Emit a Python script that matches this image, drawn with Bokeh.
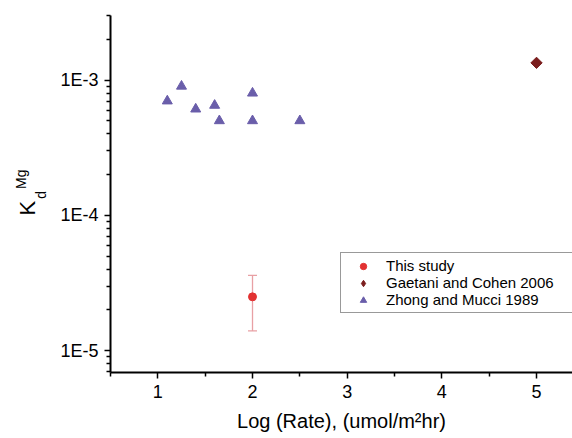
import math
from bokeh.plotting import figure
from bokeh.models import (Range1d, FixedTicker, ColumnDataSource, Whisker, TeeHead, Label,
                          Legend, LegendItem)
from bokeh.embed import file_html
from bokeh.resources import INLINE

# ---- data ----
study_x = [2.0]
study_y = [2.5e-5]
study_lo = [1.4e-5]
study_hi = [3.6e-5]

gaetani_x = [5.0]
gaetani_y = [1.34e-3]

zhong_x = [1.1, 1.25, 1.4, 1.6, 1.65, 2.0, 2.0, 2.5]
zhong_y = [7.0e-4, 9.0e-4, 6.1e-4, 6.5e-4, 5.0e-4, 8.0e-4, 5.0e-4, 5.0e-4]

x_ticks = [1, 2, 3, 4, 5]
y_ticks = [1e-5, 1e-4, 1e-3]
y_tick_labels = ["1E-5", "1E-4", "1E-3"]

FONT = "Liberation Sans"

p = figure(width=572, height=438, output_backend="svg", toolbar_location=None,
           y_axis_type="log",
           x_range=Range1d(0.5, 5.38), y_range=Range1d(6.9e-6, 3.0e-3),
           min_border_left=110, min_border_right=0, min_border_top=15, min_border_bottom=66)
p.outline_line_color = None
p.xgrid.grid_line_color = None
p.ygrid.grid_line_color = None
p.background_fill_color = "white"
p.border_fill_color = "white"

# axes
xa = p.xaxis[0]
xa.ticker = FixedTicker(ticks=x_ticks, minor_ticks=[t + 0.5 for t in [0] + x_ticks])
xa.axis_label = "Log (Rate), (umol/m\u00b2hr)"
ya = p.yaxis[0]
minor = [m * d for d in [1e-6, 1e-5, 1e-4, 1e-3] for m in range(2, 10)]
ya.ticker = FixedTicker(ticks=y_ticks, minor_ticks=minor)
ya.major_label_overrides = {t: l for t, l in zip(y_ticks, y_tick_labels)}
for ax in (xa, ya):
    ax.axis_line_width = 2
    ax.axis_line_color = "black"
    ax.major_tick_line_color = "black"
    ax.major_tick_line_width = 1.5
    ax.minor_tick_line_color = "black"
    ax.minor_tick_line_width = 1.5
    ax.major_tick_out = 6
    ax.major_tick_in = 0
    ax.minor_tick_out = 4
    ax.minor_tick_in = 0
    ax.major_label_text_font = FONT
    ax.major_label_text_font_size = "18px"
    ax.major_label_text_color = "black"
    ax.major_label_standoff = 6
    ax.axis_label_text_font = FONT
    ax.axis_label_text_font_style = "normal"
    ax.axis_label_text_font_size = "20px"
    ax.axis_label_text_color = "black"
xa.axis_label_standoff = 9

# error bar
err_src = ColumnDataSource(dict(x=study_x, lo=study_lo, hi=study_hi))
wh = Whisker(base="x", upper="hi", lower="lo", source=err_src, dimension="height",
             line_color="#e8a0a4", line_width=1.3,
             upper_head=TeeHead(size=9, line_color="#e8a0a4", line_width=1.3),
             lower_head=TeeHead(size=9, line_color="#e8a0a4", line_width=1.3))
p.add_layout(wh)

r_study = p.scatter(study_x, study_y, marker="circle", size=8, fill_color="#e23232",
                    line_color="#e23232")
# diamond legend swatch (hidden under the rotated square drawn next)
r_gc_key = p.scatter(gaetani_x, gaetani_y, marker="diamond", size=10,
                     fill_color="#7b1e1e", line_color="#7b1e1e")
r_gc = p.scatter(gaetani_x, gaetani_y, marker="square", angle=math.pi / 4, size=8,
                 fill_color="#7b1e1e", line_color="#7b1e1e")
r_zm = p.scatter(zhong_x, zhong_y, marker="triangle", size=10, fill_color="#6a5eaa",
                 line_color="#6a5eaa")

lg = Legend(items=[LegendItem(label="This study", renderers=[r_study]),
                   LegendItem(label="Gaetani and Cohen 2006", renderers=[r_gc_key]),
                   LegendItem(label="Zhong and Mucci 1989", renderers=[r_zm])])
lg.location = (230, 59)
lg.label_text_font = FONT
lg.label_text_font_size = "15px"
lg.label_text_color = "black"
lg.label_height = 16
lg.label_width = 182
lg.glyph_height = 16
lg.glyph_width = 36
lg.label_standoff = 5
lg.spacing = 0
lg.padding = 4
lg.margin = 0
lg.border_line_color = "#333333"
lg.border_line_width = 1.5
lg.background_fill_alpha = 1
p.add_layout(lg, "center")

# y-axis title K_d^Mg, drawn in the left side panel (rotated)
for txt, lx, ly, fs in [("K", -0.376, 1.13e-4, "22px"),
                        ("d", -0.239, 1.42e-4, "14px"),
                        ("Mg", -0.450, 1.85e-4, "14px")]:
    p.add_layout(Label(x=lx, y=ly, text=txt, angle=math.pi / 2,
                       text_align="center", text_baseline="middle",
                       text_font=FONT, text_font_size=fs, text_color="black"), "left")

open("out.html", "w").write(file_html(p, INLINE))
